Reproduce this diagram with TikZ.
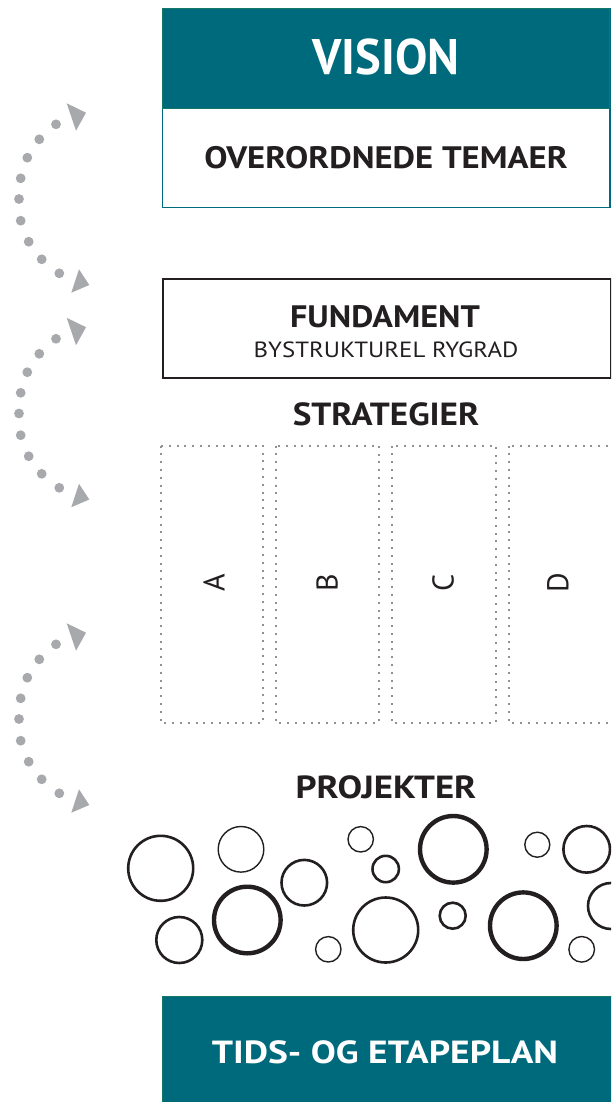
\documentclass[tikz,border=0pt]{standalone}
\usepackage{graphicx}
\usepackage{fontspec}
\setmainfont{PT Sans}
\definecolor{tealfill}{RGB}{0,106,125}
\definecolor{tealedge}{RGB}{20,120,105}
\definecolor{arcgray}{RGB}{167,169,172}
\definecolor{ink}{RGB}{35,31,32}
\definecolor{dotgray}{RGB}{145,145,145}
\newcommand{\wide}[2]{\scalebox{#1}[1]{#2}}
\tikzset{
  headtext/.style={anchor=base, text=white, font=\bfseries\fontsize{#1}{#1}\selectfont, inner sep=0pt},
  boldtext/.style={anchor=base, text=ink, font=\bfseries\fontsize{#1}{#1}\selectfont, inner sep=0pt},
  plaintext/.style={anchor=base, text=ink, font=\fontsize{#1}{#1}\selectfont, inner sep=0pt},
  letter/.style={rotate=90, text=ink, font=\fontsize{30}{30}\selectfont, inner sep=0pt},
  stratcol/.style={draw=dotgray, line width=2pt, dash pattern=on 2pt off 5.8pt},
  ring/.style={draw=ink, line width=#1},
  arcdot/.style={fill=arcgray},
}
\begin{document}
\begin{tikzpicture}[x=1pt,y=-1pt]
\useasboundingbox (0,0) rectangle (611,1102);
\clip (0,0) rectangle (611,1102);
\fill[white] (0,0) rectangle (611,1102);

% Vision box
\node (visbox) [anchor=north west, draw=tealfill, line width=1.6pt, minimum width=447.5pt, minimum height=199pt, inner sep=0pt] at (161.8,7.8) {};
\node (vishead) [anchor=north west, fill=tealfill, draw=tealedge, line width=0.8pt, minimum width=447.5pt, minimum height=100pt, inner sep=0pt] at (161.8,7.8) {};
\node (vision) [headtext=50] at (386,75) {\wide{0.97}{VISION}};
\node (temaer) [boldtext=31] at (386,168) {\wide{1.12}{OVERORDNEDE TEMAER}};

% Fundament box
\node (fundbox) [anchor=north west, draw=ink, line width=2pt, minimum width=447.5pt, minimum height=98.5pt, inner sep=0pt] at (162,278) {};
\node (fund) [boldtext=31] at (385,327) {\wide{1.10}{FUNDAMENT}};
\node (ryg) [plaintext=22] at (386,357) {\wide{1.13}{BYSTRUKTUREL RYGRAD}};

% Strategier
\node (strat) [boldtext=32] at (386,425) {\wide{1.10}{STRATEGIER}};
\draw[stratcol] (160.5,445.5) rectangle (263,722.5);
\draw[stratcol] (275.5,445.5) rectangle (379,722.5);
\draw[stratcol] (391.5,445.5) rectangle (496,722.5);
\draw[stratcol] (508.5,445.5) rectangle (640,722.5);
\node (la) [letter] at (214,583) {A};
\node (lb) [letter] at (327,583) {B};
\node (lc) [letter] at (443,583) {C};
\node (ld) [letter] at (558,583) {D};

% Projekter
\node (proj) [boldtext=32] at (386,798) {\wide{1.15}{PROJEKTER}};
\draw[ring=2.6pt] (160.7,868.3) circle (32.5);
\draw[ring=1.4pt] (241,849.3) circle (22.8);
\draw[ring=2.6pt] (304.3,882.7) circle (22.8);
\draw[ring=1.4pt] (360.7,839.3) circle (12.7);
\draw[ring=2.6pt] (385.7,869) circle (13.2);
\draw[ring=4.4pt] (453.3,849.3) circle (33.3);
\draw[ring=1.4pt] (537.3,844.7) circle (12.5);
\draw[ring=2.6pt] (586.7,849.3) circle (23.3);
\draw[ring=2.6pt] (611,906) circle (23);
\draw[ring=2.6pt] (179.3,940) circle (23);
\draw[ring=4.4pt] (247.3,920) circle (33.3);
\draw[ring=1.4pt] (328.3,949.3) circle (12.7);
\draw[ring=2.6pt] (385.7,930) circle (32.5);
\draw[ring=2.6pt] (452.7,915.7) circle (13);
\draw[ring=4.4pt] (523.3,925.7) circle (33.3);
\draw[ring=1.4pt] (581.7,949.3) circle (12.8);

% Tids- og etapeplan
\node (tidsbox) [anchor=north west, fill=tealfill, draw=tealedge, line width=0.8pt, minimum width=460pt, minimum height=120pt, inner sep=0pt] at (161.8,995.5) {};
\node (tids) [headtext=32] at (385,1063) {\wide{1.17}{TIDS- OG ETAPEPLAN}};

% dotted cycle arrows
\foreach \cy in {199,413.5,719} {
  \foreach \dx/\dy in {56/-74.7, 39.3/-59.7, 27.3/-41.3, 20.7/-20.7, 19/0, 20.7/21.7, 28.7/42.7, 41.7/60.3, 59.3/74.3}
    \fill[arcdot] ({\dx},{\cy+(\dy)}) circle (4.9);
  \fill[arcgray] ({66.7},{\cy-95.7}) -- ({86},{\cy-86.3}) -- ({76},{\cy-68.3}) -- cycle;
  \fill[arcgray] ({79},{\cy+70.3}) -- ({89.3},{\cy+86}) -- ({71.3},{\cy+93.7}) -- cycle;
}
\end{tikzpicture}
\end{document}
